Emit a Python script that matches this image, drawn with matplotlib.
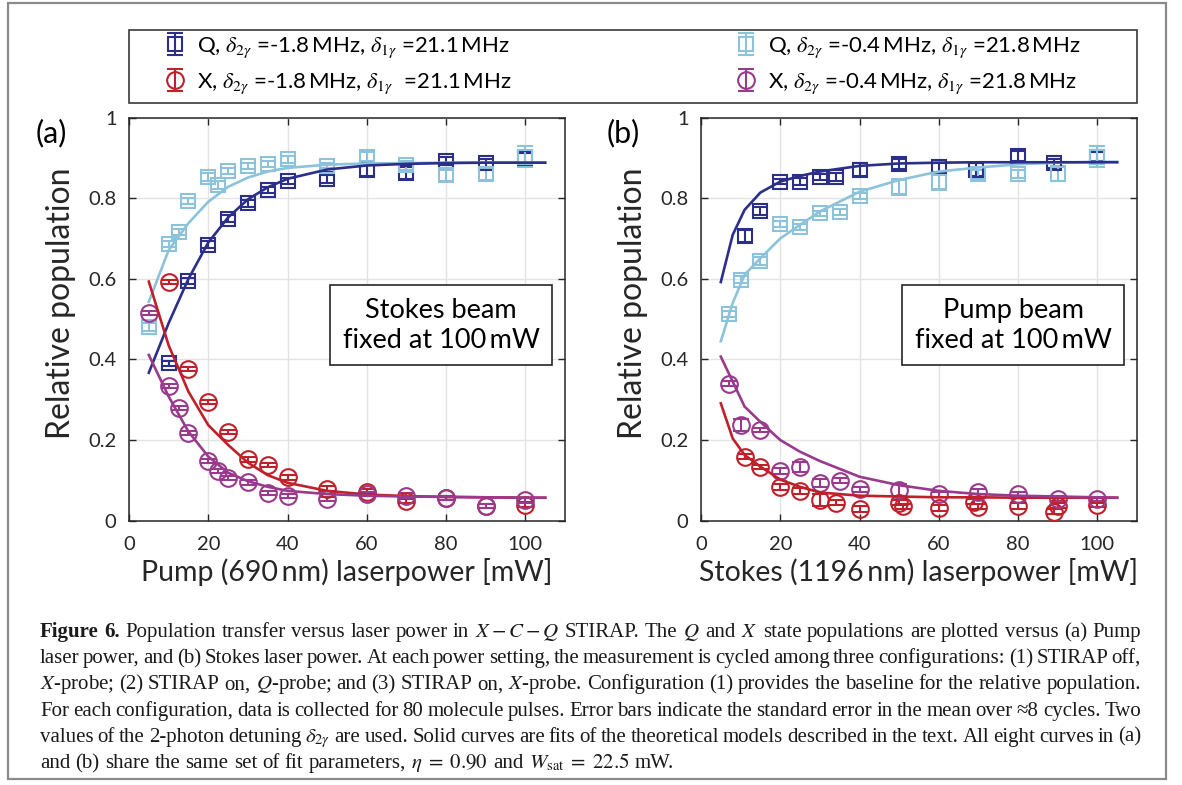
import matplotlib
matplotlib.use('Agg')
import matplotlib.pyplot as plt
from matplotlib.patches import Rectangle
from matplotlib.font_manager import FontProperties

# ---- panel (a): pump power scan, Stokes fixed ----
a_q1_x = [10, 15, 20, 25, 30, 35, 40, 50, 60, 70, 80, 90, 100]
a_q1 = [0.390, 0.595, 0.685, 0.749, 0.787, 0.820, 0.843, 0.847, 0.870, 0.862, 0.893, 0.886, 0.900]
a_q1_err = [0.006, 0.008, 0.008, 0.008, 0.008, 0.008, 0.008, 0.010, 0.014, 0.014, 0.010, 0.010, 0.012]

a_q2_x = [5, 10, 12.5, 15, 20, 22.5, 25, 30, 35, 40, 50, 60, 70, 80, 90, 100]
a_q2 = [0.481, 0.686, 0.716, 0.793, 0.853, 0.833, 0.867, 0.880, 0.885, 0.896, 0.880, 0.903, 0.881, 0.857, 0.860, 0.903]
a_q2_err = [0.010, 0.008, 0.008, 0.008, 0.010, 0.010, 0.008, 0.007, 0.007, 0.008, 0.006, 0.012, 0.010, 0.014, 0.014, 0.027]

a_x1_x = [10, 15, 20, 25, 30, 35, 40, 50, 60, 70, 80, 90, 100]
a_x1 = [0.593, 0.376, 0.295, 0.221, 0.152, 0.138, 0.108, 0.079, 0.072, 0.049, 0.057, 0.036, 0.040]
a_x1_err = [0.005, 0.005, 0.005, 0.005, 0.006, 0.005, 0.006, 0.006, 0.006, 0.006, 0.005, 0.005, 0.006]

a_x2_x = [5, 10, 12.5, 15, 20, 22.5, 25, 30, 35, 40, 50, 60, 70, 80, 90, 100]
a_x2 = [0.514, 0.334, 0.280, 0.217, 0.149, 0.124, 0.107, 0.095, 0.068, 0.062, 0.054, 0.066, 0.062, 0.057, 0.037, 0.051]
a_x2_err = [0.005, 0.006, 0.005, 0.005, 0.005, 0.005, 0.005, 0.006, 0.005, 0.005, 0.006, 0.005, 0.006, 0.005, 0.005, 0.006]

a_fit_x = [5, 10, 15, 20, 25, 30, 35, 40, 50, 60, 70, 80, 90, 100, 105]
a_fit_q1 = [0.367, 0.490, 0.600, 0.690, 0.752, 0.797, 0.827, 0.848, 0.871, 0.881, 0.885, 0.887, 0.888, 0.888, 0.888]
a_fit_q2 = [0.543, 0.671, 0.738, 0.791, 0.828, 0.851, 0.866, 0.875, 0.883, 0.886, 0.887, 0.888, 0.888, 0.888, 0.888]
a_fit_x1 = [0.593, 0.435, 0.320, 0.237, 0.188, 0.144, 0.113, 0.094, 0.074, 0.065, 0.061, 0.059, 0.058, 0.057, 0.057]
a_fit_x2 = [0.411, 0.308, 0.221, 0.159, 0.119, 0.098, 0.084, 0.074, 0.066, 0.062, 0.060, 0.059, 0.058, 0.057, 0.057]

# ---- panel (b): Stokes power scan, pump fixed ----
b_q1_x = [11, 15, 20, 25, 30, 34, 40, 50, 60, 69.5, 80, 89, 100]
b_q1 = [0.706, 0.768, 0.841, 0.841, 0.853, 0.853, 0.871, 0.885, 0.876, 0.871, 0.905, 0.886, 0.903]
b_q1_err = [0.015, 0.010, 0.007, 0.008, 0.007, 0.010, 0.015, 0.012, 0.010, 0.015, 0.013, 0.012, 0.012]

b_q2_x = [7, 10, 15, 20, 25, 30, 35, 40, 50, 60, 70, 80, 90, 100]
b_q2 = [0.513, 0.598, 0.645, 0.736, 0.729, 0.762, 0.765, 0.805, 0.828, 0.841, 0.859, 0.861, 0.861, 0.903]
b_q2_err = [0.008, 0.008, 0.010, 0.008, 0.008, 0.006, 0.008, 0.008, 0.020, 0.020, 0.012, 0.010, 0.018, 0.027]

b_x1_x = [11, 15, 20, 25, 30, 34, 40, 50, 51, 60, 69, 70, 80, 89, 90, 100]
b_x1 = [0.159, 0.134, 0.083, 0.074, 0.051, 0.045, 0.029, 0.045, 0.036, 0.031, 0.047, 0.035, 0.036, 0.022, 0.037, 0.039]
b_x1_err = [0.006, 0.005, 0.008, 0.007, 0.015, 0.006, 0.008, 0.006, 0.006, 0.008, 0.006, 0.006, 0.007, 0.006, 0.006, 0.006]

b_x2_x = [7, 10, 15, 20, 25, 30, 35, 40, 50, 60, 70, 80, 90, 100]
b_x2 = [0.340, 0.237, 0.225, 0.123, 0.134, 0.093, 0.099, 0.078, 0.076, 0.065, 0.072, 0.065, 0.055, 0.054]
b_x2_err = [0.006, 0.015, 0.006, 0.008, 0.012, 0.010, 0.006, 0.006, 0.015, 0.006, 0.006, 0.006, 0.006, 0.006]

b_fit_x = [5, 8, 11, 15, 20, 25, 30, 40, 50, 60, 70, 80, 90, 100, 105]
b_fit_q1 = [0.592, 0.709, 0.771, 0.814, 0.841, 0.855, 0.866, 0.880, 0.886, 0.888, 0.889, 0.889, 0.889, 0.889, 0.889]
b_fit_q2 = [0.445, 0.540, 0.610, 0.651, 0.700, 0.734, 0.767, 0.816, 0.845, 0.866, 0.876, 0.884, 0.888, 0.890, 0.890]
b_fit_x1 = [0.291, 0.204, 0.163, 0.134, 0.102, 0.084, 0.070, 0.062, 0.060, 0.058, 0.058, 0.057, 0.057, 0.057, 0.057]
b_fit_x2 = [0.407, 0.345, 0.283, 0.245, 0.200, 0.171, 0.148, 0.109, 0.088, 0.074, 0.066, 0.062, 0.060, 0.058, 0.057]

x_ticks = [0, 20, 40, 60, 80, 100]
y_ticks = [0, 0.2, 0.4, 0.6, 0.8, 1]
y_tick_labels = ['0', '0.2', '0.4', '0.6', '0.8', '1']

labels = [r'Q, $\delta_{2\gamma}$ =-1.8$\,$MHz, $\delta_{1\gamma}$ =21.1$\,$MHz',
          r'X, $\delta_{2\gamma}$ =-1.8$\,$MHz, $\delta_{1\gamma}$  =21.1$\,$MHz',
          r'Q, $\delta_{2\gamma}$ =-0.4$\,$MHz, $\delta_{1\gamma}$ =21.8$\,$MHz',
          r'X, $\delta_{2\gamma}$ =-0.4$\,$MHz, $\delta_{1\gamma}$ =21.8$\,$MHz']

caption_lines = [
    r"Figure 6. Population transfer versus laser power in $X-C-Q$ STIRAP. The $Q$ and $X$ state populations are plotted versus (a) Pump",
    r"laser power, and (b) Stokes laser power. At each power setting, the measurement is cycled among three configurations: (1) STIRAP off,",
    r"$X$-probe; (2) STIRAP on, $Q$-probe; and (3) STIRAP on, $X$-probe. Configuration (1) provides the baseline for the relative population.",
    r"For each configuration, data is collected for 80 molecule pulses. Error bars indicate the standard error in the mean over ≈8 cycles. Two",
    r"values of the 2-photon detuning $\delta_{2\gamma}$ are used. Solid curves are fits of the theoretical models described in the text. All eight curves in (a)",
    r"and (b) share the same set of fit parameters, $\eta\;=\;0.90$ and $W_{\mathrm{sat}}\;=\;22.5$ mW.",
]

DARK = '#2c2f8a'
LIGHT = '#8dc3da'
RED = '#c0202a'
PURPLE = '#993a8d'
AXC = '#262626'
SANS = ['Lato', 'DejaVu Sans']

W, H = 1182, 785
fig = plt.figure(figsize=(W / 100, H / 100), dpi=100)


def box(l, r, t, b):
    return [l / W, 1 - b / H, (r - l) / W, (b - t) / H]


ax_a = fig.add_axes(box(129, 565, 117.5, 520.7))
ax_b = fig.add_axes(box(701, 1137, 117.5, 520.7))


def draw_panel(ax, fit_x, fits, series):
    handles = []
    for (x, y, e, marker, ms, col) in series:
        h = ax.errorbar(x, y, yerr=e, fmt=marker, ms=ms, mfc='none', mec=col, mew=1.5,
                        ecolor=col, elinewidth=1.5, capsize=6, capthick=1.5, zorder=3)
        handles.append(h)
    for y, col in fits:
        ax.plot(fit_x, y, color=col, lw=1.9, zorder=4)
    ax.set_xlim(0, 110)
    ax.set_ylim(0, 1)
    ax.set_xticks(x_ticks)
    ax.set_yticks(y_ticks)
    ax.set_yticklabels(y_tick_labels)
    ax.grid(True, color='#e3e3e3', lw=1.0, zorder=0)
    ax.set_axisbelow(True)
    ax.tick_params(direction='in', length=5, width=1, color=AXC, top=True, right=True,
                   labelsize=14.5, labelcolor=AXC)
    ax.tick_params(axis='x', pad=11)
    ax.tick_params(axis='y', pad=9)
    for lab in ax.get_xticklabels() + ax.get_yticklabels():
        lab.set_family(SANS)
    for s in ax.spines.values():
        s.set_color(AXC)
        s.set_linewidth(1.1)
    return handles


h_a = draw_panel(ax_a, a_fit_x,
                 [(a_fit_q2, LIGHT), (a_fit_q1, DARK), (a_fit_x1, RED), (a_fit_x2, PURPLE)],
                 [(a_q1_x, a_q1, a_q1_err, 's', 10, DARK),
                  (a_x1_x, a_x1, a_x1_err, 'o', 12, RED),
                  (a_q2_x, a_q2, a_q2_err, 's', 10, LIGHT),
                  (a_x2_x, a_x2, a_x2_err, 'o', 12, PURPLE)])
draw_panel(ax_b, b_fit_x,
           [(b_fit_q2, LIGHT), (b_fit_q1, DARK), (b_fit_x1, RED), (b_fit_x2, PURPLE)],
           [(b_q1_x, b_q1, b_q1_err, 's', 10, DARK),
            (b_x1_x, b_x1, b_x1_err, 'o', 12, RED),
            (b_q2_x, b_q2, b_q2_err, 's', 10, LIGHT),
            (b_x2_x, b_x2, b_x2_err, 'o', 12, PURPLE)])

for ax, xl, note in [(ax_a, 'Pump (690\u2009nm) laserpower [mW]', 'Stokes beam\nfixed at 100\u2009mW'),
                     (ax_b, 'Stokes (1196\u2009nm) laserpower [mW]', 'Pump beam\nfixed at 100\u2009mW')]:
    ax.text(0.5, -0.127, xl, transform=ax.transAxes, ha='center', va='center',
            fontsize=20.5, color=AXC, family=SANS)
    ax.text(-0.155, 0.54, 'Relative population', transform=ax.transAxes, rotation=90,
            ha='center', va='center', fontsize=23, color=AXC, family=SANS)
    ax.text(0.716, 0.485, note, transform=ax.transAxes, ha='center', va='center',
            fontsize=19.5, color='black', family=SANS, linespacing=1.25, zorder=6,
            bbox=dict(boxstyle='square,pad=0.45', fc='white', ec=AXC, lw=1.2))

fig.text(51 / W, 1 - 133 / H, '(a)', ha='center', va='center', fontsize=22, family=SANS)
fig.text(623 / W, 1 - 133 / H, '(b)', ha='center', va='center', fontsize=22, family=SANS)

# legend: frame drawn as its own rectangle, entries placed inside it
fig.patches.append(Rectangle((129 / W, 1 - 103 / H), (1137 - 129) / W, (103 - 30) / H,
                             transform=fig.transFigure, fill=False, ec='#3a3a3a', lw=1.2))
leg_font = FontProperties(family=SANS, size=16, math_fontfamily='stix')
leg = fig.legend(h_a, labels, ncol=2, loc='center left',
                 bbox_to_anchor=(164 / W, 1 - 65.5 / H),
                 prop=leg_font, frameon=False,
                 handlelength=1.0, handletextpad=0.5, borderpad=0, labelspacing=0.5,
                 columnspacing=10.0, borderaxespad=0)

# outer frame of the figure block
fig.patches.append(Rectangle((8 / W, 1 - 779 / H), (1166 - 8) / W, (779 - 3) / H,
                             transform=fig.transFigure, fill=False, ec='#8a8a8a', lw=1.6))

# caption, justified word by word
renderer = fig.canvas.get_renderer()
cap_left, cap_right = 40, 1141
base0, step = 637, 26.2
cap_fs = 15.0
for i, line in enumerate(caption_lines):
    words = line.split(' ')
    fs = cap_fs
    while True:
        arts = []
        for j, w in enumerate(words):
            bold = (i == 0 and j < 2)
            t = fig.text(0, 0, w, fontsize=fs, family=['Liberation Serif', 'DejaVu Serif'],
                         weight='bold' if bold else 'normal', math_fontfamily='stix',
                         ha='left', va='baseline', color='#1a1a1a')
            arts.append(t)
        widths = [a.get_window_extent(renderer).width for a in arts]
        total = sum(widths)
        gap = (cap_right - cap_left - total) / (len(words) - 1)
        if i == len(caption_lines) - 1 or gap >= 3.2:
            break
        for a in arts:
            a.remove()
        fs -= 0.25
    if i == len(caption_lines) - 1:
        gap = fs * 100 / 72 * 0.25
    x = cap_left
    y = base0 + i * step
    for a, w in zip(arts, widths):
        a.set_position((x / W, 1 - y / H))
        x += w + gap

fig.savefig('out.png', dpi=100)
